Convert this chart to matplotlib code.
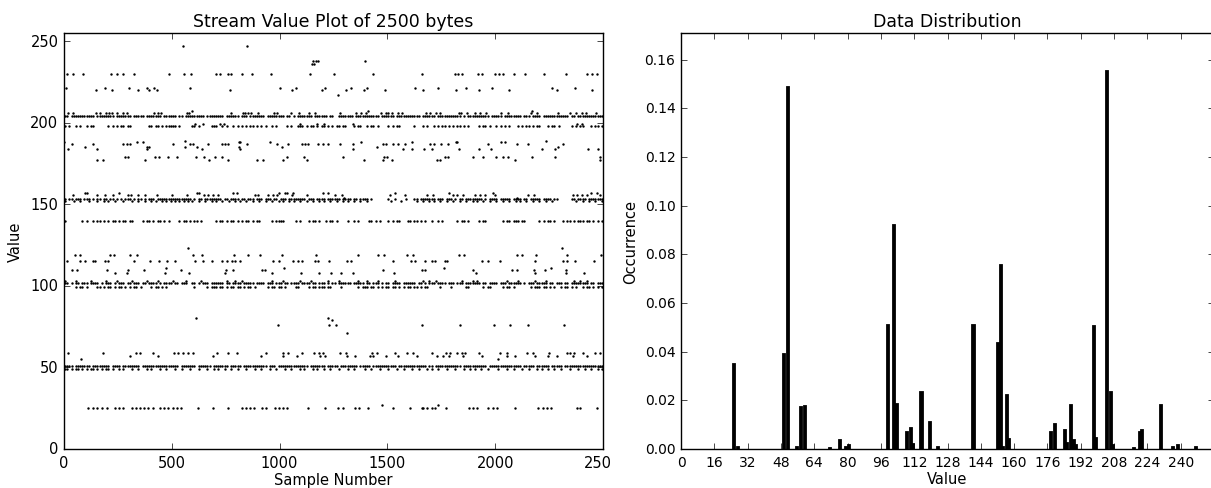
import matplotlib
matplotlib.use("Agg")
import matplotlib.pyplot as plt
from matplotlib.transforms import Bbox, TransformedBbox

# ---- histogram (right panel) ----
hist_values = [25, 27, 49, 51, 55, 57, 59, 71, 76, 79, 80, 99, 102, 103, 108, 110,
               111, 115, 119, 123, 140, 152, 153, 154, 156, 157, 177, 179, 184, 185,
               187, 188, 189, 198, 199, 204, 206, 207, 217, 220, 221, 230, 236, 238, 247]
hist_freq = [0.035, 0.001, 0.039, 0.149, 0.001, 0.0172, 0.0178, 0.0005, 0.0036, 0.001,
             0.0015, 0.0511, 0.092, 0.0187, 0.0068, 0.0086, 0.0022, 0.0236, 0.0112, 0.001,
             0.051, 0.0437, 0.0757, 0.001, 0.0223, 0.0041, 0.0068, 0.0101, 0.0079, 0.0025,
             0.0179, 0.0038, 0.0015, 0.0507, 0.0045, 0.1553, 0.0234, 0.0015, 0.0005, 0.0071,
             0.0079, 0.0179, 0.001, 0.0015, 0.001]
hist_xticks = list(range(0, 241, 16))

# ---- stream (left panel) ----
# sparse levels: sample numbers
pos_247 = [554, 850]
pos_238 = [1156, 1169, 1180, 1396]
pos_236 = [1149, 1160]
pos_230 = [16, 43, 87, 216, 247, 275, 325, 487, 557, 589, 705, 724, 762, 773, 824, 870,
           958, 1141, 1254, 1435, 1659, 1813, 1829, 1844, 1922, 1937, 1999, 2019, 2037,
           2087, 2138, 2226, 2328, 2424, 2447, 2470]
pos_221 = [9, 190, 301, 387, 417, 584, 1002, 1074, 1211, 1331, 1407, 1626, 1736, 1863,
           1983, 2262, 2370]
pos_220 = [148, 221, 345, 396, 430, 770, 1056, 1195, 1308, 1391, 1487, 1667, 1816, 1925,
           2065, 2285, 2450]
pos_217 = [1272]
pos_207 = [596, 1412, 2173]
pos_206 = [18, 40, 147, 169, 193, 211, 224, 248, 275, 293, 418, 436, 449, 569, 580, 776,
           829, 838, 853, 866, 899, 972, 990, 1055, 1091, 1137, 1165, 1280, 1353, 1379,
           1403, 1471, 1495, 1504, 1522, 1550, 1568, 1678, 1696, 1724, 1742, 1834, 1843,
           1871, 1907, 1929, 1959, 2027, 2060, 2164, 2192, 2293, 2348, 2375, 2403, 2421, 2467]
pos_199 = [608, 645, 724, 742, 1095, 1173, 1206, 1340, 2380, 2403]
pos_189 = [561, 2235]
pos_188 = [0, 340, 365, 813, 816, 955, 1376, 1612, 1818, 1824, 2025, 2045]
pos_187 = [35, 136, 275, 290, 306, 507, 584, 600, 669, 731, 747, 762, 850, 986, 1040,
           1102, 1118, 1133, 1176, 1200, 1226, 1280, 1342, 1478, 1493, 1524, 1551, 1582,
           1697, 1716, 1747, 1782, 1968, 2099, 2153, 2313]
pos_185 = [97, 387, 396, 561, 615, 813, 1010, 1453, 2293]
pos_184 = [20, 152, 387, 639, 816, 1342, 1574, 1612, 1670, 1705, 1833, 1926, 1979, 2215,
           2277, 2432, 2478]
pos_179 = [283, 298, 422, 442, 484, 523, 612, 651, 700, 734, 1033, 1115, 1292, 1484, 1497,
           1767, 1782, 1898, 1945, 2003, 2034, 2061, 2169, 2277, 2486]
pos_177 = [155, 182, 376, 672, 762, 897, 925, 1014, 1126, 1393, 1478, 1520, 1731, 1744,
           2092, 2486]
pos_157 = [97, 108, 257, 615, 628, 785, 801, 999, 1025, 1033, 1064, 1203, 1226, 1535,
           1787, 1988, 2443, 2470]
pos_156 = [43, 152, 190, 229, 298, 311, 345, 376, 430, 499, 569, 649, 669, 693, 716, 886,
           901, 948, 971, 986, 1056, 1126, 1257, 1288, 1512, 1582, 1685, 1710, 1806, 1821,
           1849, 1906, 1929, 1952, 1999, 2153, 2180, 2359, 2378, 2401, 2424, 2486]
pos_154 = [1300, 2100]
pos_123 = [577, 2311]
pos_119 = [51, 74, 213, 232, 306, 340, 597, 638, 790, 855, 909, 1010, 1169, 1365, 1458,
           1484, 1589, 1620, 1833, 1855, 2102, 2123, 2187, 2331, 2489]
pos_115 = [12, 74, 97, 136, 144, 190, 206, 325, 399, 442, 479, 515, 608, 646, 685, 731,
           754, 778, 793, 816, 971, 999, 1064, 1087, 1102, 1164, 1180, 1231, 1314, 1331,
           1527, 1608, 1628, 1674, 1705, 1721, 1767, 1778, 1937, 1968, 2022, 2184, 2313,
           2331, 2370, 2458]
pos_111 = [473, 1020, 1762, 2257]
pos_110 = [36, 59, 198, 298, 373, 541, 750, 785, 917, 932, 1481, 1659, 1674, 1898, 2076,
           2099, 2180, 2231, 2328]
pos_108 = [237, 291, 468, 581, 747, 966, 1098, 1184, 1237, 1283, 1342, 1532, 1909, 2184,
           2327, 2413]
pos_80 = [611, 1223]
pos_79 = [1245]
pos_76 = [994, 1231, 1262, 1659, 1836, 1994, 2068, 2153, 2319]
pos_71 = [1311]
pos_59 = [20, 182, 334, 352, 414, 510, 530, 554, 577, 597, 708, 762, 801, 937, 1017, 1040,
          1102, 1160, 1184, 1203, 1280, 1308, 1427, 1453, 1535, 1589, 1620, 1705, 1772,
          1790, 1824, 1844, 1860, 1926, 2022, 2056, 2149, 2177, 2251, 2331, 2347, 2365,
          2409, 2463, 2486]
pos_57 = [306, 437, 690, 912, 1014, 1079, 1187, 1211, 1311, 1350, 1419, 1435, 1493, 1551,
          1636, 1728, 1759, 1787, 1852, 1937, 2053, 2092, 2184, 2246, 2285, 2362, 2424]
pos_55 = [77, 2014]
pos_27 = [1473, 1736]
pos_25 = [113, 133, 155, 175, 198, 237, 257, 275, 314, 334, 352, 371, 391, 414, 445, 464,
          484, 504, 523, 541, 623, 693, 762, 824, 844, 863, 881, 917, 937, 979, 999, 1017,
          1036, 1133, 1211, 1272, 1296, 1350, 1370, 1412, 1527, 1605, 1659, 1666, 1685,
          1705, 1721, 1772, 1880, 1898, 1914, 1968, 1991, 2010, 2092, 2200, 2220, 2238,
          2257, 2378, 2393, 2470]

# dense levels: one character per 10 samples, '#' = a byte of that value
row_204 = ("##.####### ####.##### ###.###### #.#####.## #####.#### "
           "##.##.#### #####.#### ####.##### #.###.#### ###.###### "
           "##.##.#.## #####.#### ##.##..### ####.##### ######.### "
           "###.###### #####.#### ##.####### ####.#.### #######.## "
           "###.###### ##.###.### #.######## ####.##.## ##########")
row_198 = ("#.#..#.#.. #.##...... #.#.#.##.# #........# #.##.#.### "
           "##.#.....# #.#.....## #..#.#..#. #.#.#.##.# .#.#..#.#. "
           "...#.#..## #.#.##.#.# #.#.#.##.# #...#.##.. #.##.#.... "
           "#.#.##.... ..#...#.#. .#.#.##.#. #.##.#.#.. ..#.##.#.. "
           "#.#.#.#... #.#.##.#.# #...#.##.# .....#.#.# #...#.##.#")
row_153 = ("#.##.###.# ##.#.##.## .##.#.#.## #.#.##.#.# ##.####### "
           "#########. #.##.##### ###.##.### #.##.###.# ##.###.##. "
           "###.###### ##.###.### #.######.# ###.##.### #.#....... "
           "#..#....#. ..##.##### ##.###.### .#.##.#### ####.#.### "
           "#.#####.## ##.##.#### #.####.##. .....##.## ##.#######")
row_152 = ("#...#..#.. .#...#..#. #..#...#.. .#..#..#.. #.#..#.#.# "
           ".#.#.#.#.# ..#..#..#. #..#..#..# .#..#..#.. #..#..#..# "
           ".#..#.#..# ..#..#..#. #..#..#..# .#..#..#.. #......... "
           ".#....#... ...#..#..# .#..#..#.. #..#..#..# .#..#..#.. "
           "#..#..#..# .#..#..#.. #..#..#... .......#.. #..#..#..#")
row_140 = ("#.......#. #..#.##.#. #.##.#.##. ##....#.## .#.##.#.#. "
           "...#.##.#. ##.#...... #.##.#.##. #.#.##.#.# #.....#.## "
           "##.....#.# ...#.##.#. .#.##.#... .#..#.#... .##.#.#... "
           "#.#.##...# #.##.#.#.. #..#.#.... ..#.##.#.. ..#.##.... "
           "...#.##.## #.##...... #.#.##.#.. .#.##.#.## #.##.#.#.#")
row_103 = ("#....#.... ..#......# ....#..... .#......#. ...#...... "
           "#.....#... ...#...... .....#...# ..#....... ......#... "
           ".#.......# ....#..... ..#....#.. ......#... #....#.... "
           "...#...... ......#..# ..#....... ....#....# .#........ "
           ".....#.... #.......#. ...#...... ......#..# ..#.......")
row_102 = ("##.#.##.## #.####.#.# ##.#.###.# #.###.##.# ###.#.#### "
           ".##.###..# #.#.###.## ####.##.## ##.#####.# ###.###.## "
           "#.##.####. ####.##.## #.#.##.### ###.#####. ##.###.#.# "
           "#.####.### ###.##.#.# ##.####.## #.###.#### ###.##.### "
           "#.###.#### ##.#.###.# ####.##.## #.##.##### ###.##.###")
row_99 = (".....#.##. #....##.#. ##.#.##.#. #.##.#.... #.##.#.#.. "
          ".......... #.....#.## #.##.#.##. ##.#.##.#. ....#.##.# "
          "#.#....##. ...#.##.## #.##....#. ......#.## #.##.#.#.# "
          "#.##.#.#.# #.##.#.##. ....#....# ......##.. ....#.##.. "
          "...#.##.#. ......#.## #.##.#.#.. #.##.#.#.. #.##.#.#.#")
row_51 = ("####.##### ##.####### #.####.### #####.#### ########## "
          "###.###### #.######.# ######.### ##.####### ####.###.# "
          "########## ###.###### #.#####.## ######.### ##.####### "
          "####.##### ########.# #.######## ####.##### ######.### "
          "########## ##.#####.# #####.#### #.######## ##########")
row_49 = ("##.#.##.#. #.##.#.#.# #.#..#.#.. .#..#...#. #...#..#.. "
          ".#..#...#. ..#...#..# .#..#..#.. #...#...#. .#...#..#. "
          "..#..#...# .#...#.#.. #..#...#.. .#..#....# ..#...#... "
          "#...#..#.. .#..#...#. #..#...#.. .#...#..#. #..#..#... "
          ".#...#..#. ..#..#...# .#..#..#.. #...#...#. .#..#..#.#")


def decode(row):
    cells = row.replace(" ", "")
    return [i * 10 + 5 for i, ch in enumerate(cells) if ch == "#"]


sparse = [(247, pos_247), (238, pos_238), (236, pos_236), (230, pos_230), (221, pos_221),
          (220, pos_220), (217, pos_217), (207, pos_207), (206, pos_206), (199, pos_199),
          (189, pos_189), (188, pos_188), (187, pos_187), (185, pos_185), (184, pos_184),
          (179, pos_179), (177, pos_177), (157, pos_157), (156, pos_156), (154, pos_154),
          (123, pos_123), (119, pos_119), (115, pos_115), (111, pos_111), (110, pos_110),
          (108, pos_108), (80, pos_80), (79, pos_79), (76, pos_76), (71, pos_71),
          (59, pos_59), (57, pos_57), (55, pos_55), (27, pos_27), (25, pos_25)]
dense = [(204, row_204), (198, row_198), (153, row_153), (152, row_152), (140, row_140),
         (103, row_103), (102, row_102), (99, row_99), (51, row_51), (49, row_49)]

xs, ys = [], []
for val, pos in sparse:
    xs += pos
    ys += [val] * len(pos)
for val, row in dense:
    pos = decode(row)
    xs += pos
    ys += [val] * len(pos)

plt.style.use("classic")
plt.rcParams["font.family"] = ["DejaVu Sans"]

W, H = 1211, 489
fig = plt.figure(figsize=(W / 100, H / 100), dpi=100, facecolor="white")
ax1 = fig.add_axes([64 / W, 1 - 450 / H, (603 - 64) / W, (450 - 34) / H])
ax2 = fig.add_axes([681 / W, 1 - 450 / H, (1214 - 681) / W, (450 - 34) / H])

ax1.scatter(xs, ys, s=3, c="k", marker="o", linewidths=0)
ax1.set_xlim(0, 2500)
ax1.set_ylim(0, 255)
ax1.set_xticks([0, 500, 1000, 1500, 2000, 2500])
ax1.set_yticks([0, 50, 100, 150, 200, 250])
ax1.tick_params(labelsize=10.5)
ax1.set_title("Stream Value Plot of 2500 bytes", fontsize=12.5)
ax1.set_xlabel("Sample Number", fontsize=10.5, labelpad=2)
ax1.set_ylabel("Value", fontsize=10.5)

# the right panel cuts the last tick label of the left one
clip = TransformedBbox(Bbox([[0, 0], [612 / W, 1]]), fig.transFigure)
for lbl in ax1.get_xticklabels():
    lbl.set_clip_on(True)
    lbl.set_clip_box(clip)

ax2.bar(hist_values, hist_freq, width=1.0, align="edge", color="k", edgecolor="k",
        linewidth=1.3)
ax2.set_xlim(0, 256)
ax2.set_ylim(0, 0.171)
ax2.set_xticks(hist_xticks)
ax2.set_yticks([0.0, 0.02, 0.04, 0.06, 0.08, 0.10, 0.12, 0.14, 0.16])
ax2.set_yticklabels(["0.00", "0.02", "0.04", "0.06", "0.08", "0.10", "0.12", "0.14", "0.16"])
ax2.tick_params(labelsize=10)
ax2.set_title("Data Distribution", fontsize=12.5)
ax2.set_xlabel("Value", fontsize=10.5, labelpad=2)
ax2.set_ylabel("Occurrence", fontsize=10.5)

fig.savefig("out.png", dpi=100, facecolor="white")
